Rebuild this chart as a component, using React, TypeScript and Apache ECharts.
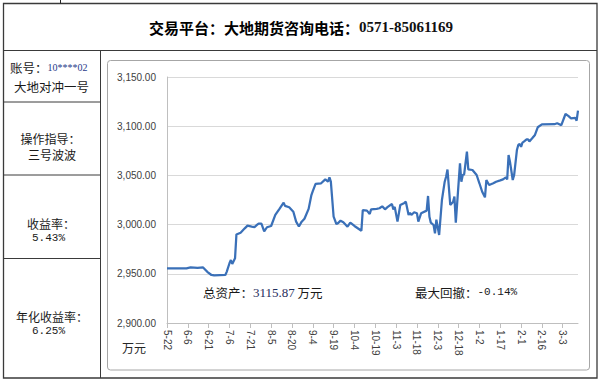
import React, { useEffect, useRef } from "react";
import * as echarts from "echarts";

const startDate = "2017-05-22";
const endDate = "2018-03-14";

const tickDates = [
  "2017-05-22", "2017-06-06", "2017-06-21", "2017-07-06", "2017-07-21", "2017-08-05", "2017-08-20",
  "2017-09-04", "2017-09-19", "2017-10-04", "2017-10-19", "2017-11-03", "2017-11-18", "2017-12-03",
  "2017-12-18", "2018-01-02", "2018-01-17", "2018-02-01", "2018-02-16", "2018-03-03",
];
const tickLabels = [
  "5-22", "6-6", "6-21", "7-6", "7-21", "8-5", "8-20", "9-4", "9-19", "10-4", "10-19",
  "11-3", "11-18", "12-3", "12-18", "1-2", "1-17", "2-1", "2-16", "3-3",
];

const dates = [
  "2017-05-22", "2017-06-05", "2017-06-08", "2017-06-13", "2017-06-15", "2017-06-17", "2017-06-20",
  "2017-06-23", "2017-06-25", "2017-07-03", "2017-07-04", "2017-07-06", "2017-07-07", "2017-07-08",
  "2017-07-10", "2017-07-11", "2017-07-14", "2017-07-17", "2017-07-19", "2017-07-22", "2017-07-24",
  "2017-07-26", "2017-07-27", "2017-07-29", "2017-07-31", "2017-08-02", "2017-08-05", "2017-08-08",
  "2017-08-11", "2017-08-14", "2017-08-15", "2017-08-18", "2017-08-21", "2017-08-23", "2017-08-25",
  "2017-08-27", "2017-08-29", "2017-09-01", "2017-09-03", "2017-09-04", "2017-09-06", "2017-09-10",
  "2017-09-13", "2017-09-15", "2017-09-16", "2017-09-17", "2017-09-19", "2017-09-21", "2017-09-22",
  "2017-09-24", "2017-09-26", "2017-09-29", "2017-10-01", "2017-10-04", "2017-10-09", "2017-10-10",
  "2017-10-13", "2017-10-15", "2017-10-16", "2017-10-20", "2017-10-22", "2017-10-24", "2017-10-26",
  "2017-10-28", "2017-10-31", "2017-11-01", "2017-11-02", "2017-11-04", "2017-11-06", "2017-11-09",
  "2017-11-10", "2017-11-12", "2017-11-13", "2017-11-14", "2017-11-16", "2017-11-18", "2017-11-19",
  "2017-11-21", "2017-11-25", "2017-11-26", "2017-11-27", "2017-11-28", "2017-11-30", "2017-12-01",
  "2017-12-02", "2017-12-04", "2017-12-06", "2017-12-08", "2017-12-09", "2017-12-10", "2017-12-12",
  "2017-12-14", "2017-12-15", "2017-12-16", "2017-12-19", "2017-12-20", "2017-12-21", "2017-12-22",
  "2017-12-24", "2017-12-25", "2017-12-28", "2017-12-31", "2018-01-02", "2018-01-04", "2018-01-06",
  "2018-01-07", "2018-01-09", "2018-01-12", "2018-01-14", "2018-01-17", "2018-01-19", "2018-01-21",
  "2018-01-22", "2018-01-23", "2018-01-24", "2018-01-26", "2018-01-27", "2018-01-29", "2018-01-30",
  "2018-01-31", "2018-02-01", "2018-02-02", "2018-02-03", "2018-02-05", "2018-02-06", "2018-02-07",
  "2018-02-09", "2018-02-11", "2018-02-13", "2018-02-16", "2018-02-25", "2018-02-27", "2018-03-02",
  "2018-03-05", "2018-03-07", "2018-03-09", "2018-03-12", "2018-03-13", "2018-03-14",
];
const assets = [
  2955.5, 2955.5, 2956.5, 2956, 2956.3, 2956.5, 2952,
  2948.8, 2948.3, 2948.8, 2952, 2960.7, 2964, 2960,
  2965.7, 2990, 2991.8, 2996.2, 2999, 2998, 2997.5,
  2999.9, 3001, 3001, 2993, 2997.3, 2998.6, 3009.8,
  3016, 3022.3, 3019, 3017.6, 3013.1, 3003, 2998,
  3003, 3006, 3016, 3030, 3034, 3041.3, 3042,
  3046, 3043.6, 3048, 3043.6, 3008, 3000.5, 3001.3,
  3004, 3002.5, 2997.9, 3002, 2998.6, 2993.8, 3014.8,
  3014.2, 3010.8, 3015.5, 3016, 3016.6, 3018.6, 3015.5,
  3018, 3020.9, 3015.5, 3018, 3003, 3019.9, 3022,
  3023.3, 3009.8, 3012, 3009.8, 3012.5, 3011.5, 3003,
  3011.5, 3014.2, 3029.1, 3008, 3002, 2999.6, 2991.1,
  3005, 2989.4, 3025, 3043.6, 3048.7, 3056, 3020,
  3023, 3028.4, 3002, 3062.3, 3043.6, 3050.4, 3051,
  3074.1, 3056.2, 3055.5, 3050.4, 3042, 3033.4, 3027.7,
  3045.3, 3040.2, 3042, 3043.6, 3045, 3046, 3048,
  3046, 3070.7, 3064, 3045.3, 3050.4, 3075.8, 3080.9,
  3081.9, 3079, 3083.3, 3084.3, 3086.7, 3086.7, 3084.5,
  3087.7, 3091.1, 3098.9, 3101.9, 3102, 3103, 3101,
  3112.4, 3110.5, 3108, 3108.5, 3105.6, 3115.87,
];

const yMin = 2900;
const yMax = 3150;
const yStep = 50;

const headerLabel = "交易平台：大地期货咨询电话：";
const headerPhone = "0571-85061169";
const accountLabel = "账号：";
const accountNo = "10****02";
const accountName = "大地对冲一号";
const guideLabel = "操作指导：";
const guideName = "三号波波";
const returnLabel = "收益率：";
const returnValue = "5.43%";
const annualLabel = "年化收益率：";
const annualValue = "6.25%";
const totalLabel = "总资产：";
const totalValue = "3115.87";
const unitText = "万元";
const drawdownLabel = "最大回撤：";
const drawdownValue = "-0.14%";

const CJK = '"Noto Sans CJK SC", sans-serif';
const MONO = '"Liberation Mono", monospace';
const SERIF = '"Liberation Serif", serif';
const SANS = '"Liberation Sans", Arial, sans-serif';

const dayOf = (s: string) => Math.round((Date.parse(s) - Date.parse(startDate)) / 86400000);

const fmtMoney = (v: number) => {
  const fixed = v.toFixed(2);
  const [i, d] = fixed.split(".");
  return i.replace(/\B(?=(\d{3})+(?!\d))/g, ",") + "." + d;
};

export default function App() {
  const ref = useRef<HTMLDivElement>(null);

  useEffect(() => {
    if (!ref.current) return;
    const chart = echarts.init(ref.current, null, { renderer: "svg", width: 600, height: 383 });
    const tickDays = tickDates.map(dayOf);
    const points = dates.map((d, i) => [dayOf(d), assets[i]]);
    const border = "#3a3a3a";
    const txt = (x: number, y: number, text: string, font: string, size: number, fill = "#1a1a1a", align = "left") => ({
      type: "text",
      x,
      y,
      silent: true,
      style: { text, fontFamily: font, fontSize: size, fill, textAlign: align, textVerticalAlign: "middle" },
    });
    const hline = (x1: number, x2: number, y: number, color = border, w = 1) => ({
      type: "line",
      silent: true,
      shape: { x1, y1: y, x2, y2: y },
      style: { stroke: color, lineWidth: w },
    });
    const vline = (x: number, y1: number, y2: number, color = border, w = 1) => ({
      type: "line",
      silent: true,
      shape: { x1: x, y1, x2: x, y2 },
      style: { stroke: color, lineWidth: w },
    });

    chart.setOption({
      animation: false,
      backgroundColor: "#ffffff",
      grid: { left: 167, top: 77, width: 411, height: 246, containLabel: false },
      xAxis: {
        type: "value",
        min: 0,
        max: dayOf(endDate),
        interval: 15,
        axisLine: { show: true, onZero: false, lineStyle: { color: "#bfbfbf", width: 1 } },
        axisTick: { show: true, length: 5, customValues: tickDays, lineStyle: { color: "#bfbfbf" } },
        axisLabel: {
          customValues: tickDays,
          rotate: -90,
          margin: 7,
          fontSize: 10,
          fontFamily: SANS,
          color: "#404040",
          formatter: (v: number) => {
            const i = tickDays.indexOf(Math.round(v));
            return i >= 0 ? tickLabels[i] : "";
          },
        },
        splitLine: { show: false },
      },
      yAxis: {
        type: "value",
        min: yMin,
        max: yMax,
        interval: yStep,
        axisLine: { show: true, lineStyle: { color: "#bfbfbf", width: 1 } },
        axisTick: { show: false },
        axisLabel: { margin: 11, fontSize: 10, fontFamily: SANS, color: "#404040", formatter: (v: number) => fmtMoney(v) },
        splitLine: { show: true, lineStyle: { color: "#d9d9d9", width: 1 } },
      },
      series: [
        {
          type: "line",
          data: points,
          symbol: "none",
          showSymbol: false,
          lineStyle: { color: "#3a70b8", width: 2.25 },
          z: 3,
        },
      ],
      graphic: [
        // table frame
        { type: "rect", silent: true, shape: { x: 3.5, y: 3.5, width: 593.5, height: 374.5 }, style: { fill: "none", stroke: border, lineWidth: 1.3 } },
        vline(60.5, 0, 3.5, "#222", 1),
        hline(3.5, 597, 50.5),
        vline(100.5, 50.5, 378),
        hline(3.5, 100.5, 102),
        hline(3.5, 100.5, 175),
        hline(3.5, 100.5, 258.5),
        // chart box
        { type: "rect", silent: true, shape: { x: 107.5, y: 60.5, width: 482, height: 309.5, r: 3 }, style: { fill: "none", stroke: "#a6a6a6", lineWidth: 1 } },
        // header
        {
          type: "text",
          x: 301,
          y: 27,
          silent: true,
          style: {
            text: "{a|" + headerLabel + "}{b|" + headerPhone + "}",
            textAlign: "center",
            textVerticalAlign: "middle",
            rich: {
              a: { fontFamily: CJK, fontSize: 15, fontWeight: "bold", fill: "#000" },
              b: { fontFamily: SERIF, fontSize: 15, fontWeight: "bold", fill: "#111" },
            },
          },
        },
        // left column
        {
          type: "text",
          x: 10,
          y: 67,
          silent: true,
          style: {
            text: "{a|" + accountLabel + "}{b|" + accountNo + "}",
            textAlign: "left",
            textVerticalAlign: "middle",
            rich: {
              a: { fontFamily: CJK, fontSize: 12.5, fill: "#1a1a1a" },
              b: { fontFamily: SERIF, fontSize: 10, fill: "#1f3a8a" },
            },
          },
        },
        txt(14, 86.5, accountName, CJK, 12.5),
        txt(20.5, 138.5, guideLabel, CJK, 12),
        txt(28, 154.5, guideName, CJK, 12),
        txt(27, 223, returnLabel, CJK, 12),
        txt(32, 238, returnValue, MONO, 11),
        txt(16, 316, annualLabel, CJK, 12),
        txt(32, 331, annualValue, MONO, 11),
        // chart annotations
        txt(134, 347, unitText, CJK, 12, "#262626", "center"),
        {
          type: "text",
          x: 203,
          y: 292,
          silent: true,
          style: {
            text: "{a|" + totalLabel + "}{b|" + totalValue + "}{a| " + unitText + "}",
            textAlign: "left",
            textVerticalAlign: "middle",
            rich: {
              a: { fontFamily: CJK, fontSize: 12.5, fill: "#1a1a1a" },
              b: { fontFamily: SERIF, fontSize: 13, fill: "#1f2d5c" },
            },
          },
        },
        {
          type: "text",
          x: 415,
          y: 292,
          silent: true,
          style: {
            text: "{a|" + drawdownLabel + "}{c|" + drawdownValue + "}",
            textAlign: "left",
            textVerticalAlign: "middle",
            rich: {
              a: { fontFamily: CJK, fontSize: 12.5, fill: "#1a1a1a" },
              c: { fontFamily: MONO, fontSize: 11, fill: "#1a1a1a" },
            },
          },
        },
      ],
    });
    return () => chart.dispose();
  }, []);

  return (
    <div
      ref={ref}
      style={{ position: "absolute", left: 0, top: 0, width: 600, height: 383, background: "#fff" }}
    />
  );
}
